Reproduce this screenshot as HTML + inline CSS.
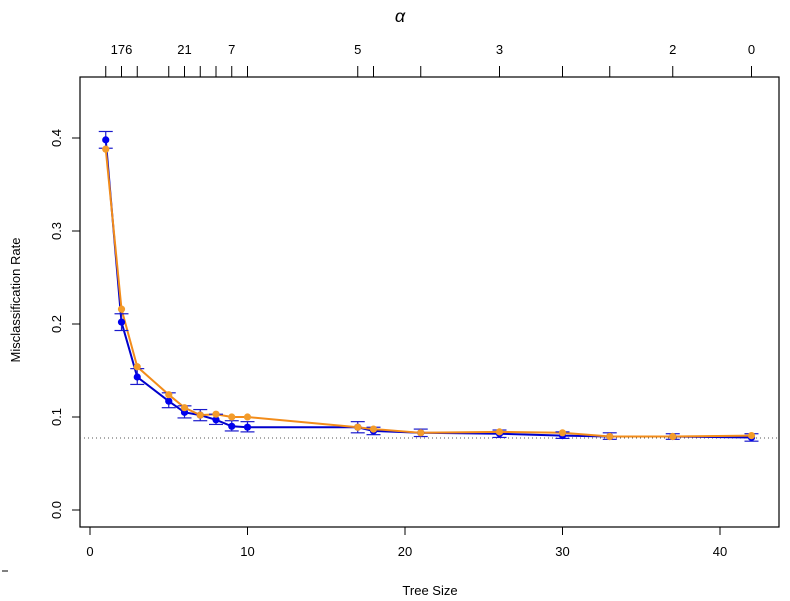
<!DOCTYPE html>
<html><head><meta charset="utf-8"><style>body{margin:0;background:#fff}svg{display:block}text{font-family:"Liberation Sans",sans-serif;fill:#000}</style></head><body>
<svg width="790" height="601" viewBox="0 0 790 601" xmlns="http://www.w3.org/2000/svg">
<rect x="80" y="77" width="699" height="450" fill="none" stroke="#000" stroke-width="1.2"/>
<g id="plot"></g>
<text x="400" y="22" font-family="Liberation Serif" font-style="italic" font-size="18" text-anchor="middle">α</text>
<text x="430" y="595" font-size="13" text-anchor="middle">Tree Size</text>
<text transform="translate(20,300) rotate(-90)" font-size="13" text-anchor="middle">Misclassification Rate</text>
<line x1="2" y1="571" x2="8" y2="571" stroke="#000"/>
</svg>
<script>
const s=document.querySelector('#plot');const NS='http://www.w3.org/2000/svg';
function el(t,a,txt){const e=document.createElementNS(NS,t);for(const k in a)e.setAttribute(k,a[k]);if(txt!==undefined)e.textContent=txt;s.appendChild(e);return e;}
const X=v=>90+15.75*v, Y=v=>510-930*v;
// y axis
[0,0.1,0.2,0.3,0.4].forEach(v=>{el('line',{x1:72,x2:80,y1:Y(v),y2:Y(v),stroke:'#000'});el('text',{transform:`translate(61,${Y(v)}) rotate(-90)`,'font-size':13,'text-anchor':'middle'},v.toFixed(1));});
[0,10,20,30,40].forEach(v=>{el('line',{x1:X(v),x2:X(v),y1:527,y2:535,stroke:'#000'});el('text',{x:X(v),y:556,'font-size':13,'text-anchor':'middle'},v);});
const sizes=[1,2,3,5,6,7,8,9,10,17,18,21,26,30,33,37,42];
sizes.forEach(v=>el('line',{x1:X(v),x2:X(v),y1:66,y2:77,stroke:'#000'}));
[[2,'176'],[6,'21'],[9,'7'],[17,'5'],[26,'3'],[37,'2'],[42,'0']].forEach(([v,t])=>el('text',{x:X(v),y:54,'font-size':13,'text-anchor':'middle'},t));
el('line',{x1:80,x2:779,y1:Y(0.0774),y2:Y(0.0774),stroke:'#555','stroke-dasharray':'1,3'});
const B=[.398,.202,.143,.117,.105,.102,.097,.090,.089,.089,.085,.083,.082,.080,.079,.079,.078];
const O=[.388,.216,.154,.124,.110,.102,.103,.100,.100,.089,.087,.083,.084,.083,.079,.079,.080];
const L=[.389,.193,.135,.110,.099,.096,.092,.085,.084,.083,.081,.079,.078,.077,.076,.076,.074];
const H=[.407,.211,.152,.126,.112,.108,.103,.096,.095,.095,.089,.087,.086,.084,.083,.082,.082];
el('polyline',{points:sizes.map((v,i)=>X(v)+','+Y(B[i])).join(' '),fill:'none',stroke:'#0000cc','stroke-width':2});
el('polyline',{points:sizes.map((v,i)=>X(v)+','+Y(O[i])).join(' '),fill:'none',stroke:'#f28c1a','stroke-width':2});
sizes.forEach((v,i)=>{const x=X(v);el('line',{x1:x,x2:x,y1:Y(L[i]),y2:Y(H[i]),stroke:'#1a1acc','stroke-width':1.2});
el('line',{x1:x-7,x2:x+7,y1:Y(L[i]),y2:Y(L[i]),stroke:'#1a1acc','stroke-width':1.2});
el('line',{x1:x-7,x2:x+7,y1:Y(H[i]),y2:Y(H[i]),stroke:'#1a1acc','stroke-width':1.2});
el('circle',{cx:x,cy:Y(B[i]),r:3.6,fill:'#0000ee'});el('circle',{cx:x,cy:Y(O[i]),r:3.6,fill:'#f39c2a'});});
</script>
</body></html>
